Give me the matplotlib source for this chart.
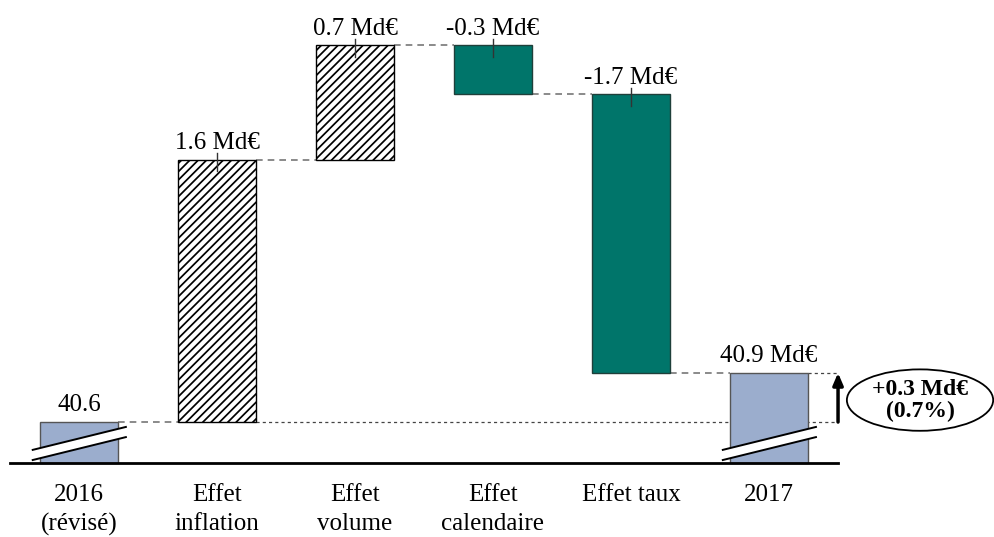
import numpy as np
import matplotlib
matplotlib.use('Agg')
import matplotlib.pyplot as plt
from matplotlib.patches import Polygon, Ellipse

# ---- Data ----
categories = ['2016\n(révisé)', 'Effet\ninflation', 'Effet\nvolume', 'Effet\ncalendaire', 'Effet taux', '2017']
start_total = 40.6
effects = [1.6, 0.7, -0.3, -1.7]
end_total = 40.9
total_change = 0.3
total_change_pct = 0.7

# ---- Style ----
plt.rcParams['font.family'] = ['Liberation Serif', 'DejaVu Serif']
plt.rcParams['hatch.linewidth'] = 1.25
blue = '#9badcd'
teal = '#00756a'
floor = 40.35          # visible bottom of the truncated axis
width = 0.56
fs = 18

fig = plt.figure(figsize=(9.94, 5.37), dpi=100)
ax = fig.add_axes([0, 0, 1, 1])
ax.set_xlim(-0.572, 6.63)
ax.set_ylim(39.898, 43.177)
ax.axis('off')

x = np.arange(len(categories))
levels = start_total + np.concatenate([[0], np.cumsum(effects)])

# totals (truncated bars)
for xi, val in [(x[0], start_total), (x[-1], end_total)]:
    ax.bar(xi, val - floor, bottom=floor, width=width, color=blue,
           edgecolor='#555555', linewidth=1.0, zorder=3)

# effect bars
for i, eff in enumerate(effects):
    xi = x[i + 1]
    lo, hi = sorted([levels[i], levels[i + 1]])
    if eff > 0:
        ax.bar(xi, hi - lo, bottom=lo, width=width, color='white', hatch='////',
               edgecolor='black', linewidth=1.0, zorder=3)
    else:
        ax.bar(xi, hi - lo, bottom=lo, width=width, color=teal,
               edgecolor='#1f3f3a', linewidth=1.0, zorder=3)

# dashed connectors between consecutive bars
for i in range(len(levels)):
    ax.plot([x[i] + width / 2, x[i + 1] - width / 2], [levels[i], levels[i]],
            ls=(0, (4, 3)), color='#777777', lw=1.2, zorder=2)

# dotted reference lines for start / end levels
ax.plot([x[1] + width / 2, 5.5], [start_total, start_total], ls=(0, (2.5, 2.5)),
        color='#444444', lw=0.9, zorder=1)
ax.plot([x[-1] + width / 2, 5.5], [end_total, end_total], ls=(0, (2.5, 2.5)),
        color='#444444', lw=0.9, zorder=1)

# baseline
ax.plot([-0.5, 5.5], [floor, floor], color='black', lw=2.0, zorder=4)

# axis break marks
for xi in [x[0], x[-1]]:
    xs = np.array([xi - 0.335, xi + 0.34])
    yc = floor + np.array([0.049, 0.189])
    g = 0.031
    ax.add_patch(Polygon([(xs[0], yc[0] - g), (xs[1], yc[1] - g),
                          (xs[1], yc[1] + g), (xs[0], yc[0] + g)],
                         closed=True, facecolor='white', edgecolor='none', zorder=5))
    ax.plot(xs, yc - g, color='black', lw=1.4, zorder=6)
    ax.plot(xs, yc + g, color='black', lw=1.4, zorder=6)

# value labels with small leader ticks
ax.text(x[0], start_total + 0.035, f'{start_total:.1f}', ha='center', va='bottom', fontsize=fs)
for i, eff in enumerate(effects):
    top = max(levels[i], levels[i + 1])
    ax.text(x[i + 1], top + 0.035, f'{eff:.1f} Md€', ha='center', va='bottom', fontsize=fs)
    ax.plot([x[i + 1], x[i + 1]], [top + 0.04, top - 0.07], color='#333333', lw=1.0, zorder=4)
ax.text(x[-1], end_total + 0.035, f'{end_total:.1f} Md€', ha='center', va='bottom', fontsize=fs)

# category labels
for xi, lab in zip(x, categories):
    ax.text(xi, floor - 0.13, lab, ha='center', va='top', fontsize=fs, linespacing=1.4)

# total change arrow and ellipse
ax.annotate('', xy=(5.5, end_total), xytext=(5.5, start_total),
            arrowprops=dict(arrowstyle='-|>,head_length=0.7,head_width=0.3', lw=2.5, color='black',
                            shrinkA=0, shrinkB=0), zorder=6)
ax.add_patch(Ellipse((6.094, 40.734), 1.06, 0.375, facecolor='white',
                     edgecolor='black', lw=1.3, zorder=5))
ax.text(6.094, 40.734, f'+{total_change:.1f} Md€\n({total_change_pct:.1f}%)', ha='center',
        va='center', fontsize=17, fontweight='bold', linespacing=1.05, zorder=6)

fig.savefig('out.png', dpi=100)
